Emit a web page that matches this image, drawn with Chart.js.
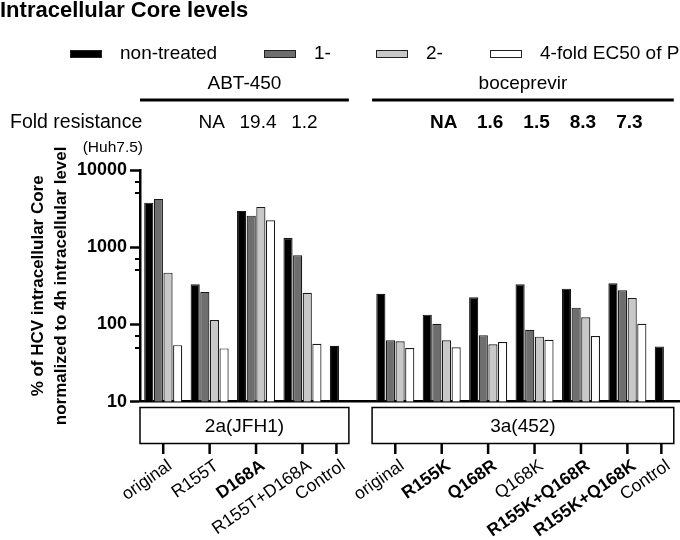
<!DOCTYPE html>
<html><head><meta charset="utf-8">
<script src="https://cdn.jsdelivr.net/npm/chart.js@4"></script>
<style>html,body{margin:0;padding:0;overflow:hidden;background:#fff;width:680px;height:540px}canvas{display:block}</style>
</head><body><canvas id="c" width="697" height="540"></canvas>
<script>
// ---------- data ----------
const categories = ['original','R155T','D168A','R155T+D168A','Control','original','R155K','Q168R','Q168K','R155K+Q168R','R155K+Q168K','Control'];
const emphasized = [false,false,true,false,false,false,true,true,false,true,true,false];
const strainNames = ['2a(JFH1)','3a(452)'];
const drugNames = ['ABT-450','boceprevir'];
const strainFirst = [0,5];
const strainLast = [4,11];
const foldResistance = [null,'NA','19.4','1.2',null,null,'NA','1.6','1.5','8.3','7.3',null];
const seriesNames = ['non-treated','1-','2-','4-fold EC50 of PI'];
const nonTreated = [3780,332,2955,1319,53,250,134,225,332,291,342,52];
const fold1 = [4225,264,2566,787,null,62.4,102,72.5,85.6,165,277,null];
const fold2 = [469,114,3326,258,null,60.6,62.4,55.4,69.5,124,220,null];
const fold4 = [54,49,2237,56.4,null,49.6,50.7,59.3,63.5,71,102,null];
const yTicks = [10,100,1000,10000];
const yMinorMultipliers = [5,7];

// ---------- style ----------
const FONT = '"Liberation Sans", Arial, Helvetica, sans-serif';
const fills = ['#000000','#6e6e6e','#c8c8c8','#ffffff'];

const decor = {
  id: 'decor',
  afterDraw(chart) {
    const {ctx, chartArea, scales: {x, y}} = chart;
    const slot = x.getPixelForValue(1) - x.getPixelForValue(0);
    const blackMeta = chart.getDatasetMeta(0);
    const tickX = i => (fold1[i] === null ? blackMeta.data[i].x + 2 : x.getPixelForValue(i));
    ctx.save();
    ctx.fillStyle = '#000';
    ctx.strokeStyle = '#000';
    // title
    ctx.font = 'bold 22px ' + FONT;
    ctx.textAlign = 'left';
    ctx.textBaseline = 'middle';
    ctx.fillText('Intracellular Core levels', 0, 11);
    // legend
    const boxX = [70, 264, 376, 490];
    chart.data.datasets.forEach((ds, i) => {
      ctx.fillStyle = ds.backgroundColor;
      ctx.fillRect(boxX[i], 50, 32, 8);
      ctx.lineWidth = 1;
      ctx.strokeStyle = '#222';
      ctx.strokeRect(boxX[i] + 0.5, 50.5, 31, 7);
      ctx.fillStyle = '#000';
      ctx.font = '19px ' + FONT;
      ctx.textAlign = 'left';
      ctx.fillText(ds.label, boxX[i] + 50, 54);
    });
    // minor y ticks
    ctx.strokeStyle = '#000';
    ctx.lineWidth = 2;
    for (let k = 0; k < yTicks.length - 1; k++) {
      yMinorMultipliers.forEach(m => {
        const py = Math.round(y.getPixelForValue(yTicks[k] * m));
        ctx.beginPath();
        ctx.moveTo(chartArea.left - 5, py);
        ctx.lineTo(chartArea.left, py);
        ctx.stroke();
      });
    }
    // strains: drug header, line, box
    strainNames.forEach((name, s) => {
      const left = x.getPixelForValue(strainFirst[s]) - slot / 2;
      const right = x.getPixelForValue(strainLast[s]);
      const cx = (left + right) / 2;
      ctx.fillStyle = '#000';
      ctx.font = '19px ' + FONT;
      ctx.textAlign = 'center';
      ctx.fillText(drugNames[s], cx, 84);
      ctx.lineWidth = 3;
      ctx.beginPath();
      ctx.moveTo(left, 100);
      ctx.lineTo(right, 100);
      ctx.stroke();
      ctx.lineWidth = 1.5;
      ctx.strokeRect(left, 407.5, right - left, 36);
      ctx.font = '19px ' + FONT;
      ctx.fillText(name, cx, 426.5);
    });
    // fold resistance
    ctx.textAlign = 'left';
    ctx.font = '19.5px ' + FONT;
    ctx.fillText('Fold resistance', 10, 123);
    ctx.textAlign = 'right';
    ctx.font = '15.5px ' + FONT;
    ctx.fillText('(Huh7.5)', 143, 148);
    foldResistance.forEach((v, i) => {
      if (v === null) return;
      ctx.textAlign = 'center';
      ctx.font = (i >= strainFirst[1] ? 'bold ' : '') + '19px ' + FONT;
      ctx.fillText(v, x.getPixelForValue(i) + 2, 123);
    });
    // x ticks and labels
    categories.forEach((lab, i) => {
      const px = tickX(i);
      ctx.lineWidth = 2.5;
      ctx.beginPath();
      ctx.moveTo(px, 443.5);
      ctx.lineTo(px, 454);
      ctx.stroke();
      ctx.save();
      ctx.translate(px + 2, 457);
      ctx.rotate(-35 * Math.PI / 180);
      ctx.textAlign = 'right';
      ctx.textBaseline = 'top';
      ctx.font = (emphasized[i] ? 'bold ' : '') + '17.5px ' + FONT;
      ctx.fillText(lab, 0, 0);
      ctx.restore();
    });
    ctx.restore();
  }
};

const series = [nonTreated, fold1, fold2, fold4];
new Chart(document.getElementById('c'), {
  type: 'bar',
  data: {
    labels: categories,
    datasets: series.map((d, i) => ({
      label: seriesNames[i],
      data: d,
      backgroundColor: fills[i],
      borderColor: '#1a1a1a',
      borderWidth: 1.2,
      categoryPercentage: 0.83,
      barPercentage: 0.95
    }))
  },
  options: {
    responsive: false,
    animation: false,
    events: [],
    layout: { padding: { top: 170, left: 26.5, right: 0, bottom: 138.3 } },
    plugins: { legend: { display: false }, tooltip: { enabled: false }, title: { display: false } },
    scales: {
      x: {
        grid: { display: false },
        border: { display: true, color: '#000', width: 2.5 },
        ticks: { display: false },
        afterFit(scale) { scale.height = 0; }
      },
      y: {
        type: 'logarithmic',
        min: 10,
        max: 10000,
        afterBuildTicks(scale) { scale.ticks = yTicks.map(v => ({ value: v, major: true })); },
        afterFit(scale) { scale.width = 113.5; },
        ticks: {
          color: '#000',
          font: { family: FONT, size: 18, weight: 'bold' },
          padding: 3,
          callback: v => String(v)
        },
        grid: { drawOnChartArea: false, tickLength: 10, tickWidth: 2.5, tickColor: '#000' },
        border: { display: true, color: '#000', width: 2.5 },
        title: {
          display: true,
          text: ['% of HCV intracellular Core', 'normalized to 4h intracellular level'],
          color: '#000',
          font: { family: FONT, size: 17, weight: 'bold', lineHeight: 1.35 },
          padding: { top: 0, bottom: 0 }
        }
      }
    }
  },
  plugins: [decor]
});
</script>
</body></html>
